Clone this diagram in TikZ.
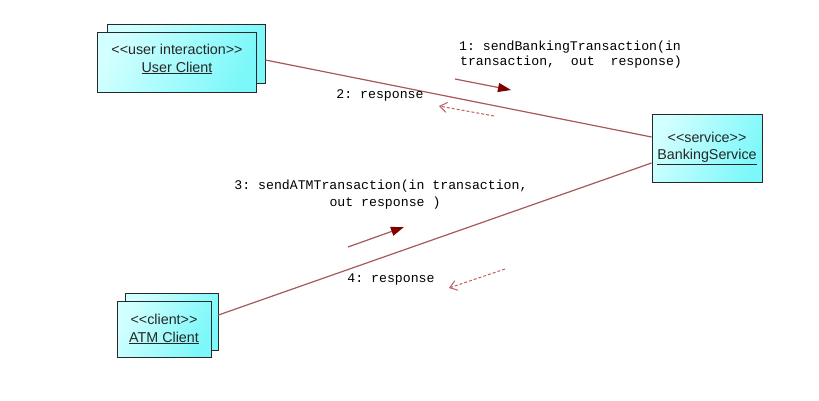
\documentclass[tikz,border=0pt]{standalone}
\usepackage{fontspec}
\setmainfont{Liberation Sans}[Ligatures=NoCommon]
\newfontfamily\monof{Liberation Mono}
\usetikzlibrary{arrows.meta}
\frenchspacing

\definecolor{linkred}{RGB}{168,88,88}
\definecolor{headred}{RGB}{128,0,0}
\definecolor{dashred}{RGB}{190,95,95}
\definecolor{cyanlight}{RGB}{210,255,255}
\definecolor{cyandeep}{RGB}{125,248,250}
\definecolor{boxedge}{RGB}{40,40,40}

\newcommand{\stq}[1]{<{}<#1>{}>}

\tikzset{
  objbox/.style={draw=boxedge, line width=0.9pt, left color=cyanlight, right color=cyandeep,
    shading angle=65, inner sep=0pt},
  stereo/.style={font=\fontsize{14.3}{17}\selectfont, text=black!85, inner sep=0pt},
  msg/.style={font=\monof\fontsize{13.2}{15}\selectfont, text=black, inner sep=0pt},
  link/.style={draw=linkred, line width=1.2pt},
  callarrow/.style={draw=linkred, line width=1.2pt,
    -{Triangle[length=13pt,width=9pt,fill=headred,color=headred]}},
  replyarrow/.style={draw=dashred, line width=1pt, dash pattern=on 3pt off 2pt,
    -{Straight Barb[length=7pt,width=10pt,line width=1pt]}},
}

\begin{document}
\begin{tikzpicture}[x=1pt,y=-1pt]
  \fill[white] (0,0) rectangle (819,400);
  \useasboundingbox (0,0) rectangle (819,400);

  % user client (multi-object)
  \node[objbox, minimum width=158pt, minimum height=59pt] (ucback) at (186,53.5) {};
  \node[objbox, minimum width=159pt, minimum height=60pt] (uc) at (176.5,62) {};
  \node[stereo] (ucst) at (177,49) {\stq{user interaction}};
  \node[stereo] (ucname) at (177,68) {\underline{User Client}};

  % banking service
  \node[objbox, minimum width=110pt, minimum height=68pt] (bs) at (707,148) {};
  \node[stereo] (bsst) at (707,137) {\stq{service}};
  \node[stereo] (bsname) at (707,157) {\underline{BankingService}};

  % ATM client (multi-object)
  \node[objbox, minimum width=93pt, minimum height=57pt] (atmback) at (171.5,321.5) {};
  \node[objbox, minimum width=94pt, minimum height=56pt] (atm) at (164,329) {};
  \node[stereo] (atmst) at (164,319) {\stq{client}};
  \node[stereo] (atmname) at (164,338) {\underline{ATM Client}};

  % link end points on the object borders
  \coordinate (ucport) at (ucback.east |- 0,60);
  \coordinate (bsporta) at (bs.west |- 0,137);
  \coordinate (bsportb) at (bs.west |- 0,163);
  \coordinate (atmport) at (atmback.east |- 0,315);

  \draw[link] (ucport) -- (bsporta);
  \draw[link] (atmport) -- (bsportb);

  % messages on the user client link
  \node[msg] (m1a) at (570,47) {1: sendBankingTransaction(in};
  \node[msg] (m1b) at (571,62) {transaction,\ \ out\ \ response)};
  \coordinate (m1s) at (455,79);
  \coordinate (m1e) at (511,90);
  \draw[callarrow] (m1s) -- (m1e);

  \node[msg] (m2) at (380,95) {2: response};
  \coordinate (m2s) at (494,116);
  \coordinate (m2e) at (439,106);
  \draw[replyarrow] (m2s) -- (m2e);

  % messages on the ATM client link
  \node[msg] (m3a) at (381,186) {3: sendATMTransaction(in transaction,};
  \node[msg] (m3b) at (385,203) {out response )};
  \coordinate (m3s) at (348,247);
  \coordinate (m3e) at (404,227);
  \draw[callarrow] (m3s) -- (m3e);

  \node[msg] (m4) at (391,280) {4: response};
  \coordinate (m4s) at (505,269);
  \coordinate (m4e) at (449,288);
  \draw[replyarrow] (m4s) -- (m4e);
\end{tikzpicture}
\end{document}
